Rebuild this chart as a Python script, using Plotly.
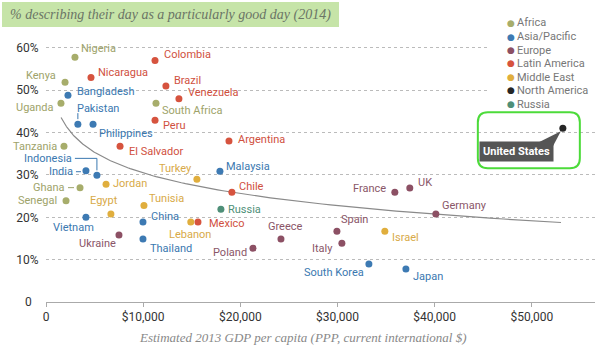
import numpy as np
import plotly.graph_objects as go

# ---------------- data ----------------
countries = ["Nigeria", "Kenya", "Uganda", "South Africa", "Tanzania", "Ghana", "Senegal",
             "Bangladesh", "Pakistan", "Philippines", "Indonesia", "India", "Vietnam", "China",
             "Thailand", "Malaysia", "South Korea", "Japan",
             "Nicaragua", "Colombia", "Brazil", "Venezuela", "Peru", "El Salvador", "Argentina",
             "Chile", "Mexico",
             "Jordan", "Egypt", "Tunisia", "Turkey", "Lebanon", "Israel",
             "Ukraine", "Poland", "Greece", "Spain", "Italy", "France", "UK", "Germany",
             "United States", "Russia"]
gdp = [2980, 1960, 1540, 11320, 1850, 3500, 2060,
       2260, 3280, 4840, 5240, 4110, 4110, 9980,
       9980, 17900, 33230, 37040,
       4630, 11220, 12340, 13680, 11220, 7620, 18830,
       19130, 15640,
       6180, 6680, 10080, 15530, 14900, 34870,
       7510, 21300, 24180, 29940, 30450, 35900, 37440, 40120,
       53190, 18000]
good_day = [57.8, 51.9, 46.9, 46.9, 36.8, 27.0, 23.9,
            48.8, 42.0, 42.0, 29.9, 31.0, 20.0, 18.9,
            14.9, 30.9, 9.0, 7.8,
            53.0, 57.0, 51.0, 48.0, 42.9, 36.8, 38.0,
            25.9, 18.9,
            27.8, 20.8, 22.8, 29.0, 18.9, 16.7,
            15.8, 12.7, 14.9, 16.7, 13.9, 25.9, 26.9, 20.8,
            41.0, 21.9]
region = (["Africa"] * 7 + ["Asia/Pacific"] * 11 + ["Latin America"] * 9 +
          ["Middle East"] * 6 + ["Europe"] * 8 + ["North America"] + ["Russia"])

regions = ["Africa", "Asia/Pacific", "Europe", "Latin America", "Middle East",
           "North America", "Russia"]
x_ticks = [0, 10000, 20000, 30000, 40000, 50000]
x_tick_labels = ["0", "$10,000", "$20,000", "$30,000", "$40,000", "$50,000"]
y_ticks = [0, 10, 20, 30, 40, 50, 60]
y_tick_labels = ["0\u2007", "10%", "20%", "30%", "40%", "50%", "60%"]
title_text = "% describing their day as a particularly good day (2014)"
x_title = "Estimated 2013 GDP per capita (PPP, current international $)"

# ---------------- styles ----------------
marker_colors = {"Africa": "#a7ad6b", "Asia/Pacific": "#3d7ab3", "Europe": "#8c5064",
                 "Latin America": "#d6533e", "Middle East": "#e0ae3d",
                 "North America": "#262626", "Russia": "#4e8f78"}
label_colors = {"Africa": "#9ea36a", "Asia/Pacific": "#3a78b0", "Europe": "#8a5668",
                "Latin America": "#d0503e", "Middle East": "#d8aa48",
                "North America": "#262626", "Russia": "#4e8f78"}
SANS = "Roboto, sans-serif"
SERIF = "Liberation Serif, DejaVu Serif, serif"
LABEL_SIZE = 11

# label placement: (xanchor, dx px, dy px, screen-down positive)
label_pos = {
    "Nigeria": ("left", 5, -9), "Kenya": ("right", -8, -7), "Bangladesh": ("left", 8, -4),
    "Uganda": ("right", -6, 4), "Pakistan": ("left", -2, -16), "Nicaragua": ("left", 6, -5),
    "Colombia": ("left", 8, -6), "Brazil": ("left", 7, -6), "Venezuela": ("left", 8, -6),
    "South Africa": ("left", 5, 7), "Peru": ("left", 7, 5), "Philippines": ("left", 5, 9),
    "Tanzania": ("right", -6, 0), "El Salvador": ("left", 8, 5), "Indonesia": ("right", -24, -17),
    "India": ("right", -12, 1), "Jordan": ("left", 6, -1), "Ghana": ("right", -14, 0),
    "Senegal": ("right", -8, 0), "Egypt": ("center", -7, -13), "Tunisia": ("left", 4, -7),
    "Vietnam": ("center", -12, 10), "China": ("left", 7, -5), "Ukraine": ("right", -2, 8),
    "Thailand": ("left", 6, 10), "Lebanon": ("center", -1, 13), "Mexico": ("left", 10, 2),
    "Russia": ("left", 6, 0), "Greece": ("center", 5, -12), "Poland": ("right", -5, 4),
    "Spain": ("left", 3, -12), "Italy": ("right", -8, 5), "South Korea": ("right", -4, 9),
    "Israel": ("left", 6, 6), "Japan": ("left", 6, 8), "Germany": ("left", 5, -8),
    "France": ("right", -8, -4), "UK": ("left", 7, -6), "Argentina": ("left", 8, -2),
    "Malaysia": ("left", 5, -5), "Turkey": ("right", -4, -11), "Chile": ("left", 6, -6),
}
# leader lines, pixel offsets from the dot (y up-positive)
leaders = {
    "Pakistan": "M 0,5 L 0,11",
    "Indonesia": "M -22,17 L 0,17 L 0,5",
    "India": "M -10,-1 L -5,-1",
    "Ghana": "M -12,0 L -6,0",
}

W, H = 600, 349
ML, MR, MT, MB = 46, 5, 39, 47
PW, PH = W - ML - MR, H - MT - MB


def px(xp):
    return (xp - ML) / PW


def py(yp):
    return (H - MB - yp) / PH


fig = go.Figure()

# trend line: least-squares log fit of the data
coef = np.polyfit(np.log(gdp), good_day, 1)
tx = np.exp(np.linspace(np.log(1550), np.log(53000), 120))
fig.add_trace(go.Scatter(x=tx, y=np.polyval(coef, np.log(tx)), mode="lines",
                         line=dict(color="#8a8a8a", width=1.2), hoverinfo="skip",
                         showlegend=False))

for r in regions:
    idx = [i for i, g in enumerate(region) if g == r]
    fig.add_trace(go.Scatter(x=[gdp[i] for i in idx], y=[good_day[i] for i in idx],
                             mode="markers", name=r, showlegend=False,
                             marker=dict(size=7, color=marker_colors[r]),
                             text=[countries[i] for i in idx]))

annotations = []
shapes = []

# white backdrop behind the legend (gridlines stop there); no marks lie in this area
shapes.append(dict(type="rect", xref="paper", yref="paper", x0=px(489), x1=1.0,
                   y0=py(110), y1=1.0, fillcolor="white", line=dict(width=0),
                   layer="above"))

for c, x, y, r in zip(countries, gdp, good_day, region):
    if c == "United States":
        continue
    xa, dx, dy = label_pos[c]
    annotations.append(dict(x=x, y=y, text=c, showarrow=False, xanchor=xa, yanchor="middle",
                            xshift=dx, yshift=-dy, borderpad=0,
                            font=dict(family=SANS, size=LABEL_SIZE, color=label_colors[r])))
    if c in leaders:
        shapes.append(dict(type="path", xref="x", yref="y", xsizemode="pixel",
                           ysizemode="pixel", xanchor=x, yanchor=y, path=leaders[c],
                           line=dict(color=label_colors[r], width=1)))

# United States callout
ui = countries.index("United States")
ux, uy = gdp[ui], good_day[ui]
annotations.append(dict(x=ux, y=uy, text="<b>United States</b>", showarrow=False,
                        xanchor="center", yanchor="middle", xshift=-46, yshift=-23,
                        bgcolor="#555555", borderpad=3,
                        font=dict(family=SANS, size=11, color="white")))
shapes.append(dict(type="path", xref="x", yref="y", xsizemode="pixel", ysizemode="pixel",
                   xanchor=ux, yanchor=uy, path="M -26,-15 L -12,-22 L -2,-3 Z",
                   fillcolor="#555555", line=dict(width=0)))
rr = 10
x0, x1, y0, y1 = -85, 17, -40, 16
rpath = (f"M {x0+rr},{y1} L {x1-rr},{y1} Q {x1},{y1} {x1},{y1-rr} L {x1},{y0+rr} "
         f"Q {x1},{y0} {x1-rr},{y0} L {x0+rr},{y0} Q {x0},{y0} {x0},{y0+rr} "
         f"L {x0},{y1-rr} Q {x0},{y1} {x0+rr},{y1} Z")
shapes.append(dict(type="path", xref="x", yref="y", xsizemode="pixel", ysizemode="pixel",
                   xanchor=ux, yanchor=uy, path=rpath,
                   line=dict(color="#4cdb3a", width=2)))

# title box
shapes.append(dict(type="rect", xref="paper", yref="paper", x0=px(2), x1=px(339),
                   y0=py(27), y1=py(2), fillcolor="#c6e4a8", line=dict(width=0), layer="below"))
annotations.append(dict(xref="paper", yref="paper", x=px(8), y=py(14.5), text=title_text,
                        showarrow=False, xanchor="left", yanchor="middle",
                        font=dict(family=SERIF, size=14, color="#6b7566", style="italic")))

# legend
for i, r in enumerate(regions):
    yc = 23 + 13.5 * i
    annotations.append(dict(xref="paper", yref="paper", x=px(511), y=py(yc), text="●",
                            showarrow=False, xanchor="center", yanchor="middle", borderpad=0,
                            font=dict(family="DejaVu Sans", size=9, color=marker_colors[r])))
    annotations.append(dict(xref="paper", yref="paper", x=px(516), y=py(yc), text=r,
                            showarrow=False, xanchor="left", yanchor="middle", borderpad=0,
                            font=dict(family=SANS, size=11, color="#777777")))

# x axis title
annotations.append(dict(xref="paper", yref="paper", x=px(303), y=py(337), text=x_title,
                        showarrow=False, xanchor="center", yanchor="middle",
                        font=dict(family=SERIF, size=13, color="#888888", style="italic")))

fig.update_layout(
    width=W, height=H, margin=dict(l=ML, r=MR, t=MT, b=MB),
    paper_bgcolor="white", plot_bgcolor="white",
    annotations=annotations, shapes=shapes,
    xaxis=dict(range=[0, 56500], tickvals=x_ticks, ticktext=x_tick_labels,
               showgrid=False, zeroline=False, showline=True, linecolor="#aaaaaa",
               linewidth=1, ticks="outside", ticklen=4, tickcolor="#aaaaaa",
               tickfont=dict(family=SANS, size=12, color="#333333")),
    yaxis=dict(range=[0, 62.1], tickvals=y_ticks, ticktext=y_tick_labels,
               showgrid=True, gridcolor="#bbbbbb", griddash="dot", gridwidth=1,
               zeroline=False, showline=False, ticks="outside", ticklen=4,
               tickcolor="rgba(0,0,0,0)",
               tickfont=dict(family=SANS, size=12, color="#333333")),
    showlegend=False,
)

fig.write_html("out.html")
